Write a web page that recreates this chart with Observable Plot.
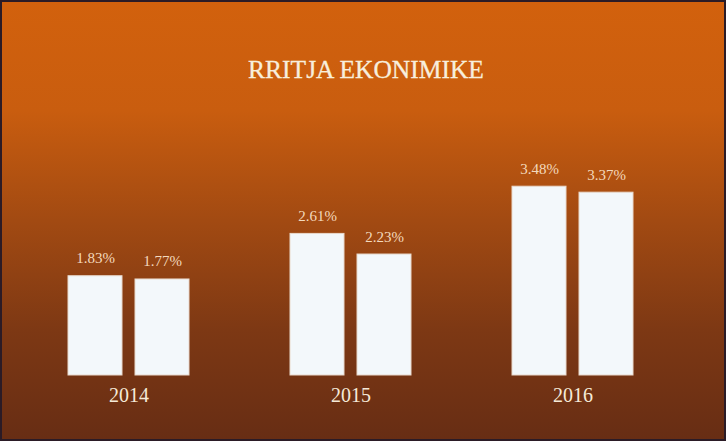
<!DOCTYPE html>
<html>
<head>
<meta charset="utf-8">
<script src="https://cdn.jsdelivr.net/npm/d3@7"></script>
<script src="https://cdn.jsdelivr.net/npm/@observablehq/plot@0.6"></script>
<style>
  html, body { margin: 0; padding: 0; }
  #slide {
    position: relative;
    width: 726px; height: 441px;
    box-sizing: border-box;
    background: linear-gradient(to bottom, #d2610d 0%, #c95d0f 25%, #a24a12 50%, #7d3814 75%, #672d14 100%);
    box-shadow: inset 0 0 0 2px #2b1b26;
    overflow: hidden;
  }
  #title {
    position: absolute;
    left: 0; width: 732px; top: 55px;
    text-align: center;
    font-family: "Liberation Serif", "DejaVu Serif", serif;
    font-size: 25.5px;
    color: #f8eedc;
    -webkit-text-stroke: 0.3px #f8eedc;
  }
  #chart { position: absolute; left: 0; top: 0; }
</style>
</head>
<body>
<div id="slide">
  <div id="title">RRITJA EKONIMIKE</div>
  <div id="chart"></div>
</div>
<script>
const years = ["2014", "2015", "2016"];
const seriesA = [1.83, 2.61, 3.48];
const seriesB = [1.77, 2.23, 3.37];
const seriesKeys = ["A", "B"];

const data = [];
years.forEach((yr, i) => {
  data.push({year: yr, s: seriesKeys[0], v: seriesA[i]});
  data.push({year: yr, s: seriesKeys[1], v: seriesB[i]});
});

const chart = Plot.plot({
  width: 726,
  height: 441,
  marginLeft: 67,
  marginRight: 92,
  marginTop: 158,
  marginBottom: 66,
  style: {background: "transparent", fontFamily: "Liberation Serif, serif", color: "#f5ead8", overflow: "visible"},
  fx: {domain: years, paddingInner: 0.455, paddingOuter: 0, label: null, axis: null},
  x: {domain: seriesKeys, paddingInner: 0.2, paddingOuter: 0, axis: null},
  y: {domain: [0, 4], axis: null},
  marks: [
    Plot.barY(data, {fx: "year", x: "s", y: "v", fill: "#f3f8fb", stroke: "#e9d9cc", strokeWidth: 1}),
    Plot.text(data, {fx: "year", x: "s", y: "v", text: d => d.v.toFixed(2) + "%", lineAnchor: "bottom", dy: -13, fill: "#f3d9bd", fontSize: 15}),
    Plot.axisFx({anchor: "bottom", tickSize: 0, tickPadding: 12, fontSize: 20, label: null, fill: "#f5ead8"})
  ]
});
document.getElementById("chart").appendChild(chart);
</script>
</body>
</html>
